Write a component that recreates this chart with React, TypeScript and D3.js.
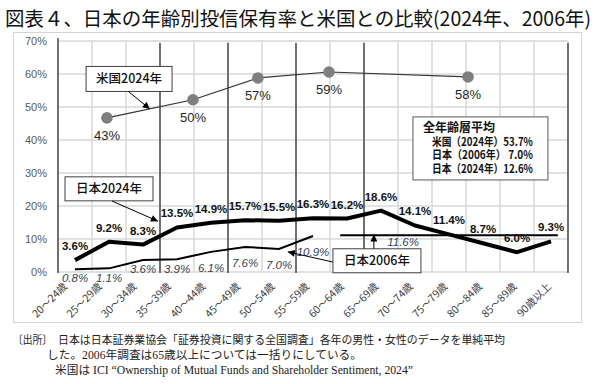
import React from 'react';
import * as d3 from 'd3';

const ages = [
  '20～24歳', '25～29歳', '30～34歳', '35～39歳', '40～44歳', '45～49歳', '50～54歳',
  '55～59歳', '60～64歳', '65～69歳', '70～74歳', '75～79歳', '80～84歳', '85～89歳', '90歳以上',
];

// 日本2024年 (太線)
const jp2024 = [3.6, 9.2, 8.3, 13.5, 14.9, 15.7, 15.5, 16.3, 16.2, 18.6, 14.1, 11.4, 8.7, 6.0, 9.3];

// 日本2006年 (細線, 65歳以上は一括り)
const jp2006 = [0.8, 1.1, 3.6, 3.9, 6.1, 7.6, 7.0, 10.9];
const jp2006Over65 = 11.6;
const jp2006Over65Span = [7.8, 14.2]; // category index range of the flat segment

// 米国2024年: dots sit between age groups, drawn position vs printed label
const usPos = [0.94, 3.47, 5.38, 7.47, 11.56];
const usPlotted = [46.7, 52.2, 58.8, 60.6, 59.1];
const usLabels = ['43%', '50%', '57%', '59%', '58%'];

const yTicks = [0, 10, 20, 30, 40, 50, 60, 70];
const darkRules = [3, 5, 7, 9]; // band boundaries drawn dark

const avgTitle = '全年齢層平均';
const avgLines = ['米国（2024年）53.7%', '日本（2006年） 7.0%', '日本（2024年）12.6%'];

const title = '図表４、日本の年齢別投信保有率と米国との比較(2024年、2006年)';
const notes = [
  '日本は日本証券業協会「証券投資に関する全国調査」各年の男性・女性のデータを単純平均',
  'した。2006年調査は65歳以上については一括りにしている。',
  '米国は ICI “Ownership of Mutual Funds and Shareholder Sentiment, 2024”',
];

const W = 600;
const H = 384;
const JP = "'Noto Sans CJK JP', sans-serif";
const NUM = "'Liberation Sans', Arial, sans-serif";
const SERIF = "'Liberation Serif', 'Noto Sans CJK JP', serif";

const App: React.FC = () => {
  const x = d3.scaleBand<string>().domain(ages).range([58, 568]).padding(0);
  const bw = x.bandwidth();
  const xi = d3.scaleLinear().domain([0, 14]).range([58 + bw / 2, 568 - bw / 2]);
  const y = d3.scaleLinear().domain([0, 70]).range([272, 41]);
  // tick labels were spaced a touch wider than the bands in the original
  const xl = d3.scaleLinear().domain([0, 14]).range([xi(0) - 7, xi(14) + 1]);

  const line = d3.line<[number, number]>().x(d => xi(d[0])).y(d => y(d[1]));

  const jp24Pts: [number, number][] = jp2024.map((v, i) => [i, v]);
  const jp06Pts: [number, number][] = jp2006.map((v, i) => [i, v]);
  const usPts: [number, number][] = usPlotted.map((v, i) => [usPos[i], v]);

  const boundaries = d3.range(ages.length + 1).map(i => 58 + i * bw);

  // 2006 labels sit under the line, pushed below the axis for the smallest values
  const label06Y = (v: number) => (v < 2 ? y(0) + 6 : Math.min(y(v) + 16, y(0) - 3)) + 4;

  const arrow = (x1: number, y1: number, x2: number, y2: number) => (
    <line x1={x1} y1={y1} x2={x2} y2={y2} stroke="#000" strokeWidth={1} markerEnd="url(#ah)" />
  );

  const box = (cx: number, cy: number, w: number, h: number, text: string) => (
    <g>
      <rect x={cx - w / 2} y={cy - h / 2} width={w} height={h} fill="#fff" stroke="#404040" strokeWidth={1} />
      <text x={cx} y={cy + 4.5} textAnchor="middle" fontFamily={JP} fontSize={12.5} fontWeight={500} fill="#111">
        {text}
      </text>
    </g>
  );

  // summary box corners in data space
  const sx0 = xi(9.94), sx1 = xi(13.91), sy0 = y(47), sy1 = y(27.9);

  return (
    <svg width={W} height={H} viewBox={`0 0 ${W} ${H}`} style={{ position: 'absolute', left: 0, top: 0, background: '#fff' }}>
      <defs>
        <marker id="ah" viewBox="0 0 10 10" refX="10" refY="5" markerWidth="8" markerHeight="7"
          markerUnits="userSpaceOnUse" orient="auto">
          <path d="M0,0 L10,5 L0,10 z" fill="#000" />
        </marker>
      </defs>
      <rect width={W} height={H} fill="#fff" />

      <text x={5} y={26} fontFamily={JP} fontSize={19.5} fill="#111" textLength={586} lengthAdjust="spacingAndGlyphs">
        {title}
      </text>

      {/* chart frame */}
      <rect x={13.5} y={32.5} width={568} height={290} fill="none" stroke="#d4d4d4" strokeWidth={1} />

      {/* grid */}
      {yTicks.map(t => (
        <line key={'h' + t} x1={58} x2={568} y1={y(t)} y2={y(t)} stroke="#d9d9d9" strokeWidth={1.5} />
      ))}
      {boundaries.map((bx, i) => (
        <line key={'v' + i} x1={bx} x2={bx} y1={y(70)} y2={y(0)} stroke="#d9d9d9" strokeWidth={1.5} />
      ))}
      {[0, ...darkRules, ages.length].map(i => (
        <line key={'d' + i} x1={boundaries[i]} x2={boundaries[i]} y1={i === 0 ? 38 : 43} y2={y(0) + 1}
          stroke="#333" strokeWidth={1.3} />
      ))}

      {/* y tick labels */}
      {yTicks.map(t => (
        <text key={'yt' + t} x={47} y={y(t) + 4} textAnchor="end" fontFamily={NUM} fontSize={11} fill="#595959">
          {t}%
        </text>
      ))}

      {/* x tick labels */}
      {ages.map((a, i) => (
        <text key={a} transform={`translate(${xl(i)},${y(0) + 15}) rotate(-45)`} textAnchor="end"
          fontFamily={JP} fontSize={10.5} fill="#404040">
          {a}
        </text>
      ))}

      {/* US 2024 */}
      <path d={line(usPts) ?? ''} fill="none" stroke="#333" strokeWidth={1.2} />
      {usPts.map((p, i) => (
        <g key={'us' + i}>
          <circle cx={xi(p[0])} cy={y(p[1])} r={5.8} fill="#7f7f7f" />
          <text x={xi(p[0])} y={y(p[1]) + 22} textAnchor="middle" fontFamily={NUM} fontSize={13} fill="#262626">
            {usLabels[i]}
          </text>
        </g>
      ))}

      {/* Japan 2006 */}
      <path d={line(jp06Pts) ?? ''} fill="none" stroke="#000" strokeWidth={2} />
      <line x1={xi(jp2006Over65Span[0])} x2={xi(jp2006Over65Span[1])} y1={y(jp2006Over65) + 1.5}
        y2={y(jp2006Over65) + 1.5} stroke="#000" strokeWidth={2} />
      {jp2006.map((v, i) => (
        <text key={'j06' + i} x={xi(i)} y={label06Y(v)} textAnchor="middle" fontFamily={NUM}
          fontSize={11.5} fontStyle="italic" fill="#333f55">
          {v.toFixed(1)}%
        </text>
      ))}
      <text x={xi(9.65)} y={y(jp2006Over65) + 12.5} textAnchor="middle" fontFamily={NUM}
        fontSize={11.5} fontStyle="italic" fill="#333f55">
        {jp2006Over65.toFixed(1)}%
      </text>

      {/* Japan 2024 */}
      <path d={line(jp24Pts) ?? ''} fill="none" stroke="#000" strokeWidth={4} strokeLinejoin="round" />
      {jp2024.map((v, i) => (
        <text key={'j24' + i} x={xi(i)} y={y(v) - 10} textAnchor="middle" fontFamily={NUM}
          fontSize={11.5} fontWeight="bold" fill="#111">
          {v.toFixed(1)}%
        </text>
      ))}

      {/* annotations */}
      {box(xi(1.59), y(58.5), 86, 25, '米国2024年')}
      {arrow(xi(1.56), y(54.8), xi(2.2), y(49.4))}

      {box(xi(1.0), y(25.2), 88, 24, '日本2024年')}
      {arrow(xi(1.09), y(21.5), xi(2.44), y(15.4))}

      {arrow(xi(8.79), y(7.0), xi(8.79), y(11.4))}
      {arrow(xi(7.59), y(3.0), xi(6.26), y(6.1))}
      {box(xi(8.88), y(3.4), 88, 24, '日本2006年')}

      <rect x={sx0} y={sy0} width={sx1 - sx0} height={sy1 - sy0} fill="#fff" stroke="#595959" strokeWidth={1} />
      <text x={sx0 + 10} y={sy0 + 15} fontFamily={JP} fontSize={12} fontWeight="bold" fill="#111">{avgTitle}</text>
      {avgLines.map((t, i) => (
        <text key={'avg' + i} x={sx0 + 19} y={sy0 + 29 + i * 13.5} fontFamily={JP} fontSize={11.5}
          fontWeight="bold" fill="#111" textLength={101} lengthAdjust="spacingAndGlyphs">
          {t}
        </text>
      ))}

      {/* source notes */}
      <text x={13} y={344} fontFamily={SERIF} fontSize={11.5} fill="#222" textLength={39} lengthAdjust="spacingAndGlyphs">〔出所〕</text>
      <text x={58} y={344} fontFamily={SERIF} fontSize={11.5} fill="#222" textLength={447} lengthAdjust="spacingAndGlyphs">{notes[0]}</text>
      <text x={47} y={359} fontFamily={SERIF} fontSize={11.5} fill="#222" textLength={315} lengthAdjust="spacingAndGlyphs">{notes[1]}</text>
      <text x={55} y={374} fontFamily={SERIF} fontSize={11.5} fill="#222" textLength={358} lengthAdjust="spacingAndGlyphs">{notes[2]}</text>
    </svg>
  );
};

export default App;
